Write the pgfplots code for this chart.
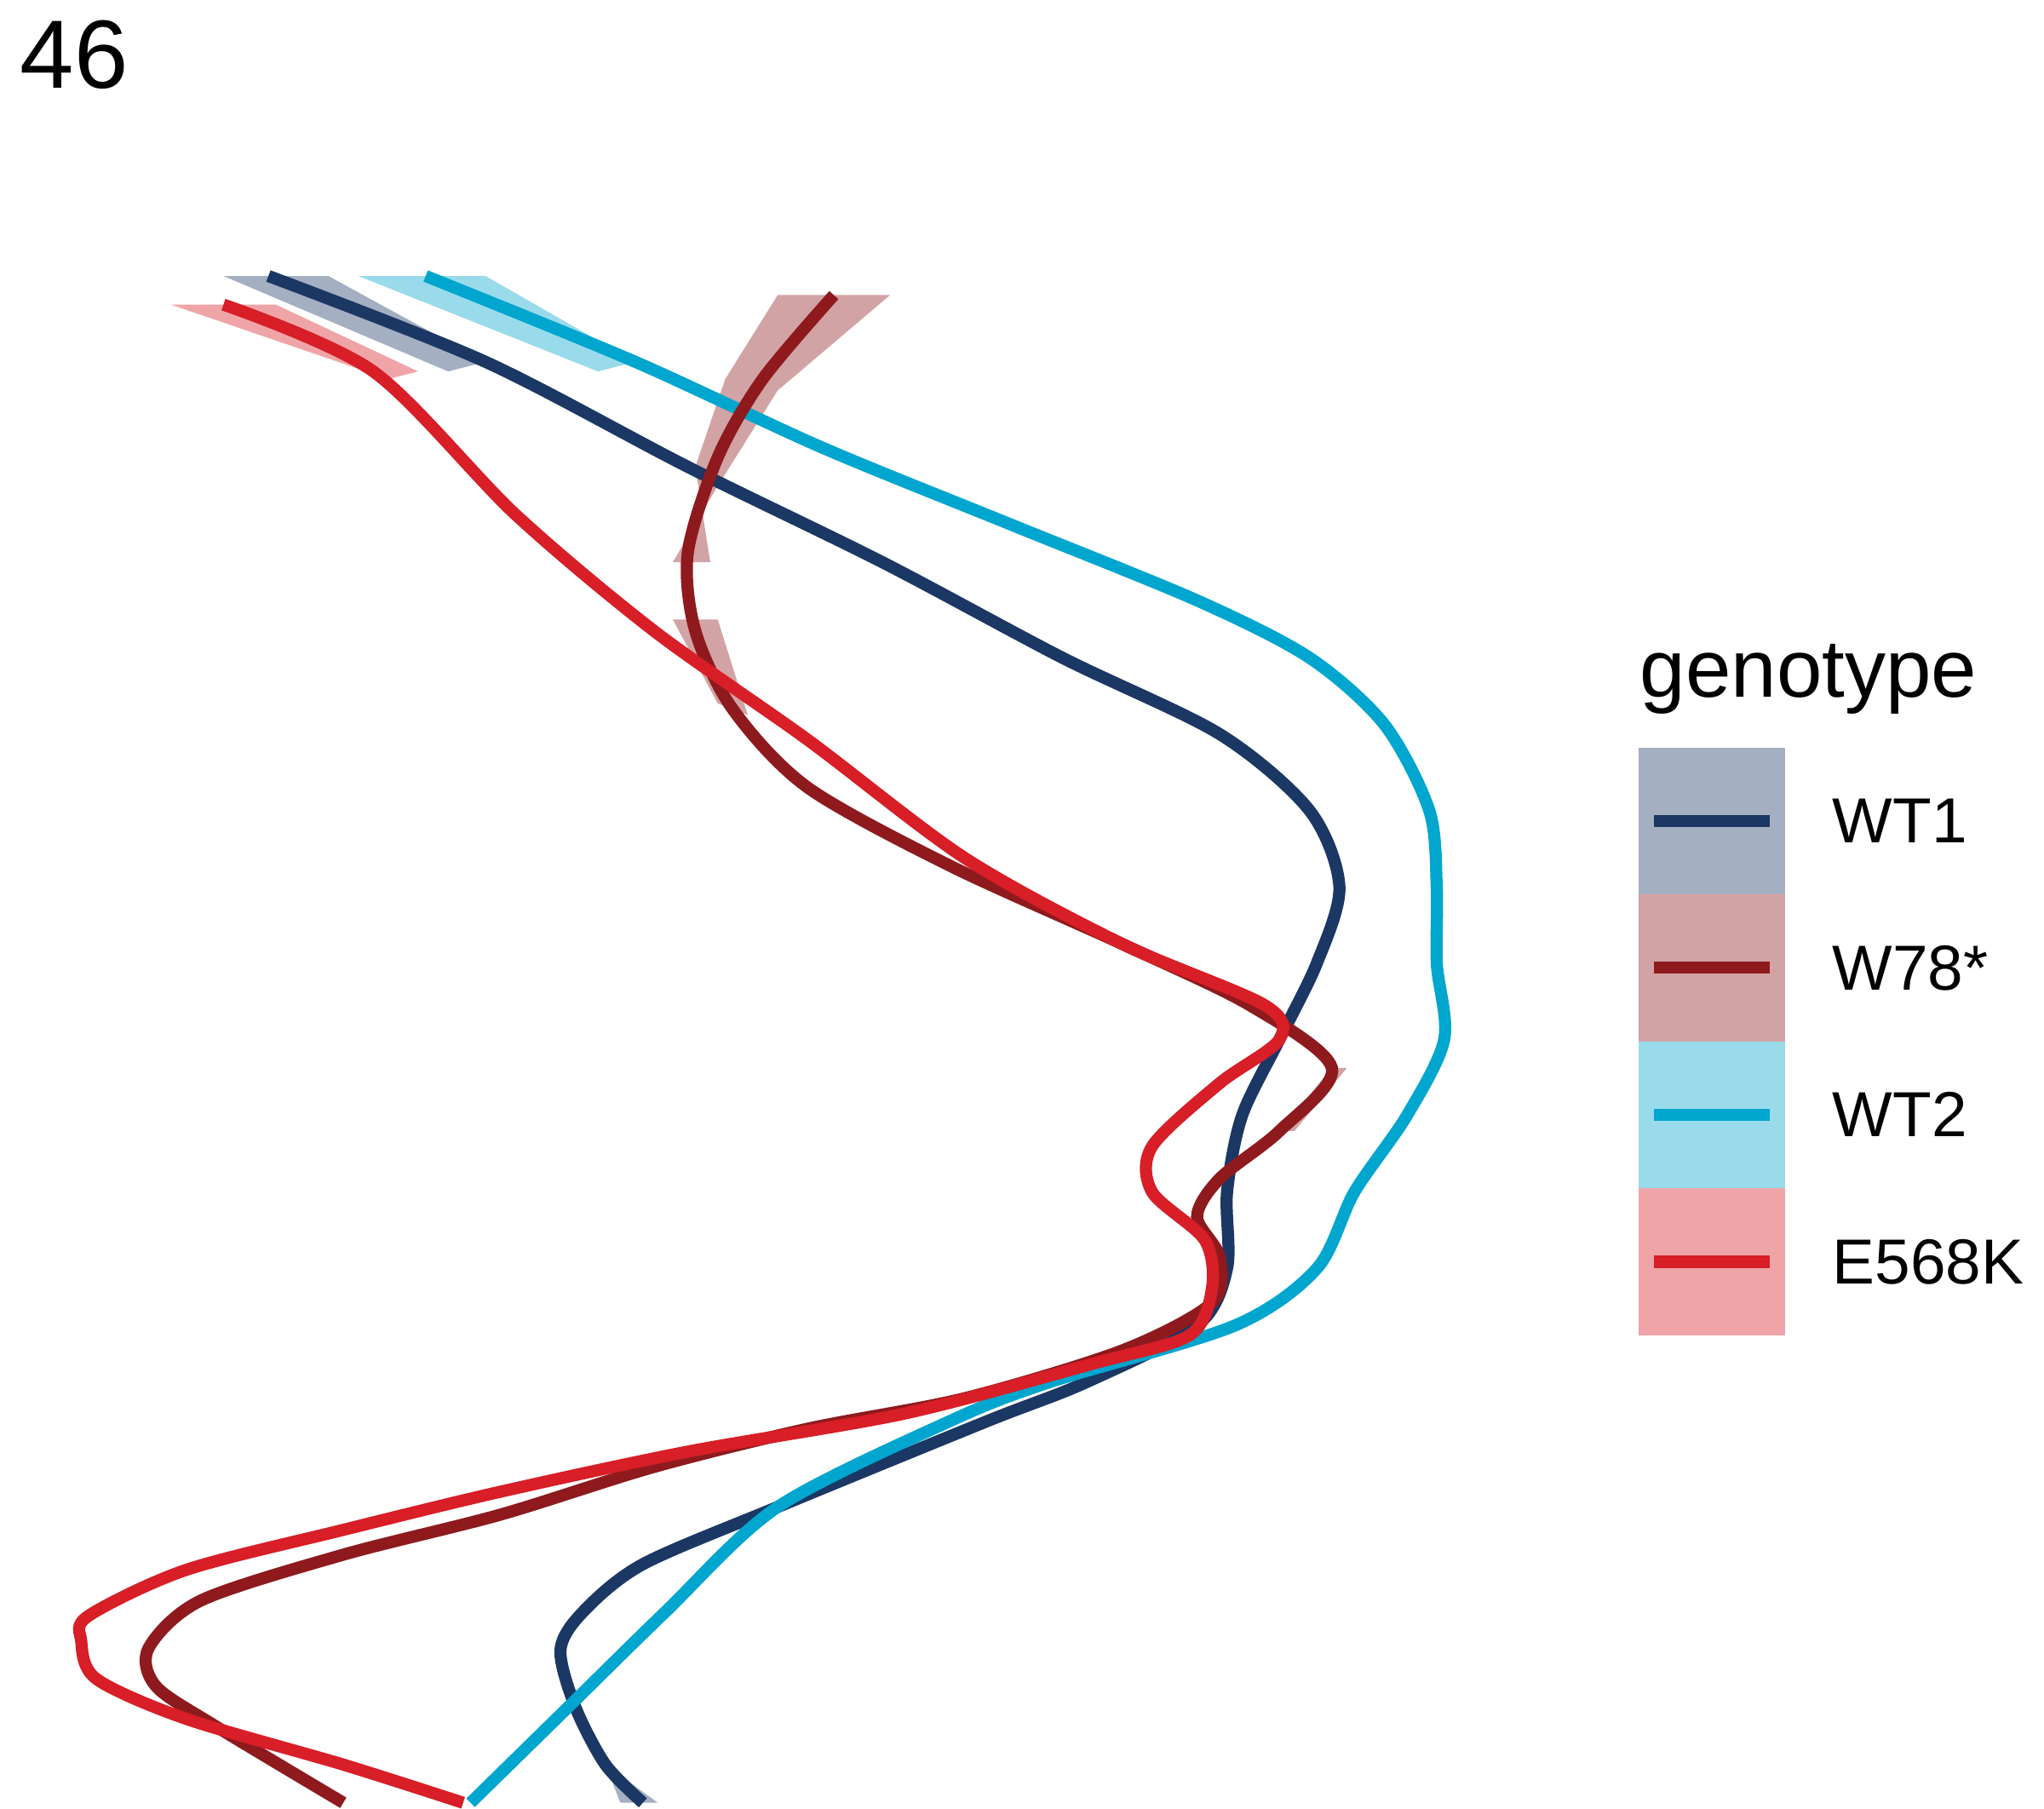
\documentclass[border=0pt]{standalone}
\usepackage{pgfplots}
\pgfplotsset{compat=1.18}
\usepackage{fontspec}
\setmainfont{Liberation Sans}
\definecolor{cWA}{HTML}{1B3764}
\definecolor{cWB}{HTML}{8E1A1E}
\definecolor{cWC}{HTML}{00A6CE}
\definecolor{cWD}{HTML}{D81E26}
\newcommand{\legkey}[3]{%
 \fill[#1!40] (axis cs:14.9,#3+3.85) rectangle (axis cs:16.85,#3-3.85);
 \draw[#1, line width=2pt] (axis cs:15.1,#3) -- (axis cs:16.65,#3);
 \node[anchor=west, font=\fontsize{10.5}{12}\selectfont] at (axis cs:17.2,#3) {#2};}
\begin{document}
\begin{tikzpicture}
\begin{axis}[
 scale only axis, width=250pt, height=271pt,
 xmin=-7, xmax=13.24, ymin=-2.5, ymax=83.6,
 axis lines=none,
 xtick={-5,0,5,10}, ytick={0,20,40,60,80},
 minor xtick={-2.5,2.5,7.5,12.5}, minor ytick={10,30,50,70},
 grid=both,
 major grid style={gray!15, line width=1pt},
 minor grid style={gray!15, line width=0.5pt},
 tick label style={text=black!70, font=\fontsize{10.5}{12}\selectfont},
 /pgf/number format/assume math mode=true,
 xticklabel style={yshift=-4pt},
 yticklabel style={xshift=-2pt},
 xlabel={Mean of red-green difference},
 ylabel={RowIndex (cm)},
 label style={font=\fontsize{13.5}{15}\selectfont},
 xlabel style={yshift=-2pt},
 title={46}, title style={font=\fontsize{16}{18}\selectfont, at={(rel axis cs:0,1)}, anchor=south west, yshift=10pt},
 clip=false,
]
\addplot[fill=cWA, opacity=0.4, draw=none] coordinates {(-4.0,80)(-2.6,80)(-0.5,75.5)(-1.0,75)(-4.0,80)};
\addplot[fill=cWC, opacity=0.4, draw=none] coordinates {(-2.2,80)(-0.5,80)(1.5,75.5)(1.0,75)(-2.2,80)};
\addplot[fill=cWB, opacity=0.4, draw=none] coordinates {(3.4,79)(4.9,79)(3.4,74)(2.6,69)(2.0,65)(2.5,65)(2.3,70)(2.7,74.6)(3.4,79)};
\addplot[fill=cWB, opacity=0.4, draw=none] coordinates {(2.0,62)(2.6,62)(3.0,57)(2.6,57.6)(2.0,62)};
\addplot[fill=cWD, opacity=0.4, draw=none] coordinates {(-4.7,78.5)(-3.3,78.5)(-1.4,75)(-1.8,74.6)(-4.7,78.5)};
\addplot[fill=cWA, opacity=0.4, draw=none] coordinates {(1.1,2)(1.8,0)(1.3,0)(1.1,2)};
\addplot[fill=cWB, opacity=0.4, draw=none] coordinates {(10.8,38.5)(11,38.5)(10.3,35.2)(10.1,35.2)(10.8,38.5)};
\addplot[cWA, line width=2pt, smooth] coordinates {
(-3.4,80)(-0.5,75.5)(2.2,70)(4.8,65)(7.2,60)(9.3,56)(10.5,52)(10.9,48)(10.6,44)(10.1,40)(9.6,36)(9.4,32)(9.4,28)(9.0,25)(7.5,22)(6.2,20)(3.4,15.5)(1.6,12.5)(0.8,10)(0.5,8)(0.7,5)(1.1,2)(1.6,0)};
\addplot[cWC, line width=2pt, smooth] coordinates {
(-1.3,80)(1.5,75.5)(4,71)(6.5,67)(9,63)(10.5,60)(11.5,56.5)(12.1,52)(12.2,48)(12.2,44)(12.3,40)(11.8,36)(11.1,32)(10.6,28)(9.5,25)(7,22)(5.7,20)(3.4,15.5)(1.9,10)(0.6,5)(-0.7,0)};
\addplot[cWB, line width=2pt, smooth] coordinates {
(4.15,79)(3.2,74.6)(2.6,70.5)(2.2,65.5)(2.3,61.4)(2.8,57.3)(3.8,53.2)(5.7,49.1)(8,45)(9.7,41.8)(10.8,38.5)(10.1,35.2)(9.3,32.7)(9,30.7)(9.3,28.6)(9.2,26.2)(8,23.7)(5.9,21.2)(3.8,19.6)(1.75,17.6)(-0.3,15.1)(-2.4,13)(-4.3,10.6)(-5,8.1)(-4.9,6.1)(-4.1,4)(-2.4,0)};
\addplot[cWD, line width=2pt, smooth] coordinates {
(-4,78.5)(-2,75)(-0.1,67.5)(1.75,61.4)(3.8,55.7)(5.9,49.5)(8,45)(9.9,41.8)(10.1,40)(9.3,37.7)(8.4,34.4)(8.4,32)(9.1,29.5)(9.2,27)(8.9,24.5)(7.6,23)(5.1,20.4)(2.2,18.4)(-0.3,16.3)(-2.4,14.3)(-4.5,12.2)(-5.8,9.8)(-5.9,8.5)(-5.7,6.5)(-4.5,4.4)(-2.4,2)(-0.8,0)};
\node[anchor=south west, font=\fontsize{13.5}{15}\selectfont, inner sep=0pt] at (axis cs:14.9,57) {genotype};
\legkey{cWA}{WT1}{51.45}
\legkey{cWB}{W78*}{43.75}
\legkey{cWC}{WT2}{36.05}
\legkey{cWD}{E568K}{28.35}
\end{axis}
\end{tikzpicture}
\end{document}
